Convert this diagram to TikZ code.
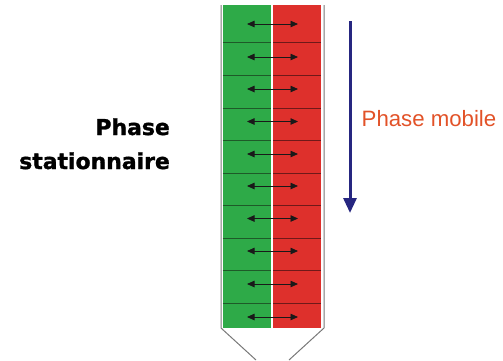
\documentclass[tikz,border=0pt]{standalone}
\usepackage{fontspec}
\setmainfont{Liberation Sans}
\newfontfamily\heavyfont{DejaVu Sans}[BoldFeatures={FakeBold=1.3}]
\usetikzlibrary{arrows.meta}
\definecolor{cgreen}{RGB}{46,170,72}
\definecolor{cred}{RGB}{222,48,44}
\definecolor{gline}{RGB}{30,90,40}
\definecolor{rline}{RGB}{110,25,25}
\definecolor{frame}{RGB}{120,120,120}
\definecolor{navy}{RGB}{38,38,128}
\definecolor{mobile}{RGB}{226,82,40}
\tikzset{
  cellbox/.style={inner sep=0pt, outer sep=0pt, minimum width=48.5bp},
  gcell/.style={cellbox, fill=cgreen},
  rcell/.style={cellbox, fill=cred},
  rowline/.style={line width=0.7bp},
  swap/.style={line width=0.8bp, draw=black!90, {Triangle[length=7.5bp,width=6.5bp]}-{Triangle[length=7.5bp,width=6.5bp]}},
  framel/.style={draw=frame, line width=1bp},
  flow/.style={draw=navy, line width=3bp, -{Triangle[length=15bp,width=13bp]}},
}
\begin{document}
\begin{tikzpicture}[x=1bp,y=-1bp]
\useasboundingbox (0,0) rectangle (503,360);
\foreach \t/\b [count=\i] in {5/42.5,42.5/75.5,75.5/108,108/140.5,140.5/173,173/205.5,205.5/238,238/270.5,270.5/303,303/328}{
  \node[gcell, minimum height={(\b-\t)*1bp}] (g\i) at (246.85,{(\t+\b)/2}) {};
  \node[rcell, minimum height={(\b-\t)*1bp}] (r\i) at (297.15,{(\t+\b)/2}) {};
}
% row lines
\foreach \i in {1,...,9}{
  \draw[rowline, draw=gline] (g\i.south west) -- (g\i.south east);
  \draw[rowline, draw=rline] (r\i.south west) -- (r\i.south east);
}
% exchange arrows
\foreach \y [count=\i] in {24,57,89,121.5,154,186,218.5,251,284,317}{
  \coordinate (a\i) at (247,\y);
  \coordinate (b\i) at (298,\y);
  \draw[swap] (a\i) -- (b\i);
}
% column frame
\coordinate (tl) at (221,5);
\coordinate (bl) at (221,328);
\coordinate (tr) at (324,5);
\coordinate (br) at (324,328);
\coordinate (el) at (256,360);
\coordinate (er) at (289,360);
\draw[framel] (tl) -- (bl) -- (el);
\draw[framel] (tr) -- (br) -- (er);
% mobile phase arrow
\coordinate (m1) at (350,21);
\coordinate (m2) at (350,213);
\draw[flow] (m1) -- (m2);
\node[anchor=west, text=mobile, font=\fontsize{22.3}{25}\selectfont, inner sep=0pt] (pm) at (361.5,118.5) {Phase mobile};
% stationary phase label
\node[anchor=base east, inner sep=0pt, font=\heavyfont\bfseries\fontsize{22}{26}\selectfont] (ps1) at (170,135) {Phase};
\node[anchor=base east, inner sep=0pt, font=\heavyfont\bfseries\fontsize{22}{26}\selectfont] (ps2) at (170,169) {stationnaire};
\end{tikzpicture}
\end{document}
